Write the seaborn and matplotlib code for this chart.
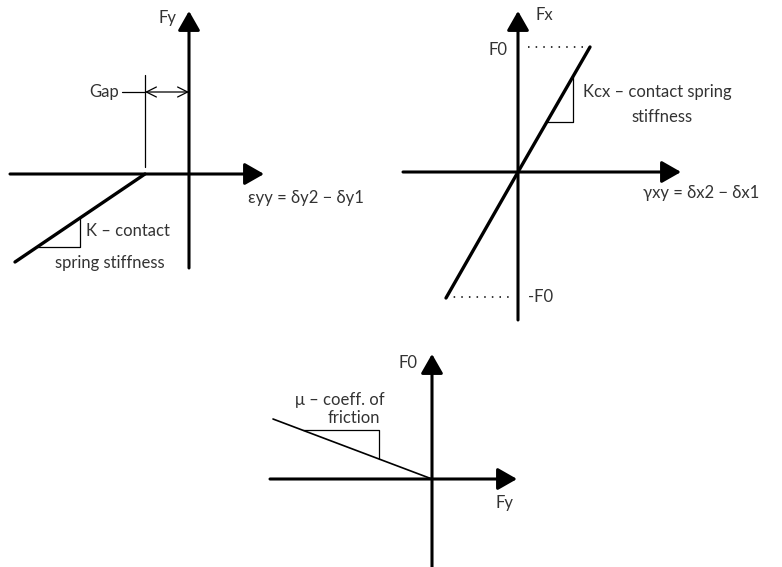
import matplotlib.pyplot as plt
import seaborn as sns
import numpy as np
import pandas as pd

# 法向接触：间隙与接触刚度
gap = -44
eps_yy = [-174, -44]
fy_normal = [-88, 0]

# 切向接触：刚度与极限摩擦力
gamma_xy = [-72, 0, 72]
fx_shear = [-126, 0, 125]
f0 = 125

# 摩擦系数
fy_fric = [-159, 0]
f0_fric = [60, 0]

W, H = 782, 567
sns.set_theme(style="white")
plt.rcParams['font.family'] = ['Lato', 'DejaVu Sans']
TXT = '#333333'
FS = 12

fig = plt.figure(figsize=(W / 100, H / 100), dpi=100)


def panel(ox, oy):
    # 每个面板一个透明坐标系，原点位于(ox, oy)像素处
    ax = fig.add_axes([0, 0, 1, 1])
    ax.set_xlim(-ox, W - ox)
    ax.set_ylim(-(H - oy), oy)
    ax.set_axis_off()
    ax.patch.set_alpha(0)
    return ax


def axis_arrow(ax, x0, x1, y0, y1):
    ax.annotate('', xy=(x1, y1), xytext=(x0, y0),
                arrowprops=dict(arrowstyle='-|>,head_length=0.42,head_width=0.24',
                                mutation_scale=28, lw=2.2, color='black',
                                shrinkA=0, shrinkB=0))


def slope_triangle(ax, xs, ys, xa, xb):
    k = (ys[-1] - ys[0]) / (xs[-1] - xs[0])
    y = lambda x: ys[0] + k * (x - xs[0])
    ax.plot([xa, xb, xb], [y(xa), y(xa), y(xb)], color='black', lw=0.9)


# ---- 面板1 ----
ax1 = panel(189, 174)
axis_arrow(ax1, -179, 75, 0, 0)
axis_arrow(ax1, 0, 0, -94, 163)
df1 = pd.DataFrame({'x': eps_yy, 'y': fy_normal})
sns.lineplot(data=df1, x='x', y='y', ax=ax1, color='black', lw=2.4, estimator=None)
ax1.plot([gap, gap], [7, 99], color='black', lw=0.9)
ax1.plot([gap - 23, gap], [82, 82], color='black', lw=0.9)
ax1.annotate('', xy=(0, 82), xytext=(gap, 82),
             arrowprops=dict(arrowstyle='<->,head_length=0.6,head_width=0.3',
                             mutation_scale=12, lw=0.9, color='black',
                             shrinkA=0, shrinkB=0))
slope_triangle(ax1, eps_yy, fy_normal, -152, -109)
ax1.text(gap - 26, 82, 'Gap', ha='right', va='center', fontsize=FS, color=TXT)
ax1.text(-13, 156, 'Fy', ha='right', va='center', fontsize=FS, color=TXT)
ax1.text(59, -24, 'εyy = δy2 − δy1', ha='left', va='center', fontsize=FS, color=TXT)
ax1.text(-103, -57, 'K – contact', ha='left', va='center', fontsize=FS, color=TXT)
ax1.text(-79, -89, 'spring stiffness', ha='center', va='center', fontsize=FS, color=TXT)

# ---- 面板2 ----
ax2 = panel(518, 172)
axis_arrow(ax2, -115, 163, 0, 0)
axis_arrow(ax2, 0, 0, -148, 161)
df2 = pd.DataFrame({'x': gamma_xy, 'y': fx_shear})
sns.lineplot(data=df2, x='x', y='y', ax=ax2, color='black', lw=2.4, estimator=None)
ax2.plot([10, gamma_xy[-1]], [f0, f0], color='black', lw=1.1, ls=(0, (1, 4)))
ax2.plot([gamma_xy[0], -5], [-f0, -f0], color='black', lw=1.1, ls=(0, (1, 4)))
slope_triangle(ax2, gamma_xy, fx_shear, 29, 55)
ax2.text(-11, f0 - 3, 'F0', ha='right', va='center', fontsize=FS, color=TXT)
ax2.text(10, -f0, '-F0', ha='left', va='center', fontsize=FS, color=TXT)
ax2.text(17, 157, 'Fx', ha='left', va='center', fontsize=FS, color=TXT)
ax2.text(65, 80, 'Kcx – contact spring', ha='left', va='center', fontsize=FS, color=TXT)
ax2.text(144, 55, 'stiffness', ha='center', va='center', fontsize=FS, color=TXT)
ax2.text(125, -21, 'γxy = δx2 − δx1', ha='left', va='center', fontsize=FS, color=TXT)

# ---- 面板3 ----
ax3 = panel(432, 479)
axis_arrow(ax3, -162, 85, 0, 0)
axis_arrow(ax3, 0, 0, -90, 125)
df3 = pd.DataFrame({'x': fy_fric, 'y': f0_fric})
sns.lineplot(data=df3, x='x', y='y', ax=ax3, color='black', lw=1.2, estimator=None)
slope_triangle(ax3, fy_fric, f0_fric, -129, -53)
ax3.text(-15, 116, 'F0', ha='right', va='center', fontsize=FS, color=TXT)
ax3.text(63, -24, 'Fy', ha='left', va='center', fontsize=FS, color=TXT)
ax3.text(-137, 79, 'μ – coeff. of', ha='left', va='center', fontsize=FS, color=TXT)
ax3.text(-78, 61, 'friction', ha='center', va='center', fontsize=FS, color=TXT)

fig.savefig('out.png', dpi=100, facecolor='white')
